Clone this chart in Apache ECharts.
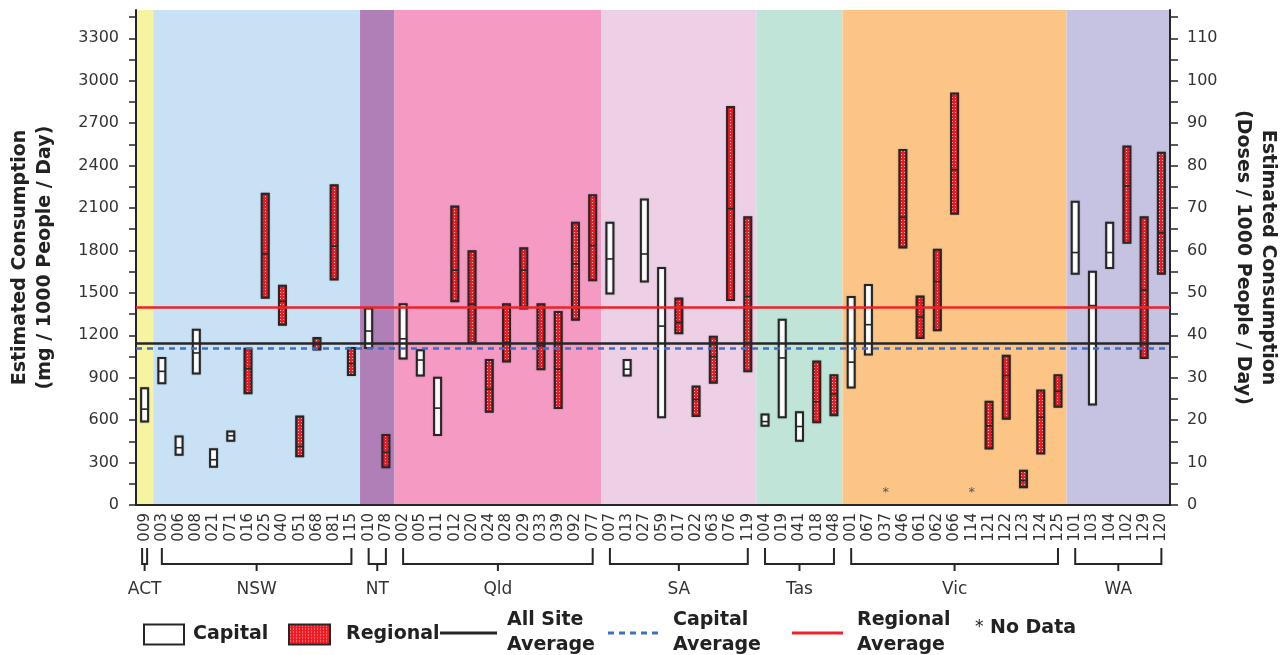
<!DOCTYPE html>
<html><head><meta charset="utf-8">
<script src="https://cdn.jsdelivr.net/npm/echarts@6/dist/echarts.min.js"></script>
<style>html,body{margin:0;padding:0;background:#fff}#c{width:1288px;height:655px}</style>
</head><body><div id="c"></div>
<script>
const sites = ['009','003','006','008','021','071','016','025','040','051','068','081','115','010','078','002','005','011','012','020','024','028','029','033','039','092','077','007','013','027','059','017','022','063','076','119','004','019','041','018','048','001','067','037','046','061','062','066','114','121','122','123','124','125','101','103','104','102','129','120'];
const siteStates = ['ACT',
 'NSW','NSW','NSW','NSW','NSW','NSW','NSW','NSW','NSW','NSW','NSW','NSW',
 'NT','NT',
 'Qld','Qld','Qld','Qld','Qld','Qld','Qld','Qld','Qld','Qld','Qld','Qld',
 'SA','SA','SA','SA','SA','SA','SA','SA','SA',
 'Tas','Tas','Tas','Tas','Tas',
 'Vic','Vic','Vic','Vic','Vic','Vic','Vic','Vic','Vic','Vic','Vic','Vic','Vic',
 'WA','WA','WA','WA','WA','WA'];
const siteTypes = ['C',
 'C','C','C','C','C','R','R','R','R','R','R','R',
 'C','R',
 'C','C','C','R','R','R','R','R','R','R','R','R',
 'C','C','C','C','R','R','R','R','R',
 'C','C','C','R','R',
 'C','C','C','R','R','R','R','R','R','R','R','R','R',
 'C','C','C','R','R','R'];
const lowValues = [590,
 860,355,930,270,455,790,1465,1275,345,1100,1595,920,
 1110,267,
 1035,915,495,1440,1145,660,1015,1390,960,685,1310,1590,
 1495,915,1580,620,1215,630,865,1450,945,
 560,620,455,585,635,
 830,1065,null,1820,1180,1235,2060,null,400,610,125,365,695,
 1635,710,1675,1855,1040,1635];
const midValues = [678,
 945,405,1075,320,490,965,1775,1440,415,1140,1830,1000,
 1230,373,
 1175,1025,685,1660,1420,820,1150,1660,1125,960,1705,1835,
 1740,960,1775,1265,1290,745,1050,2095,1475,
 590,1040,555,730,785,
 1010,1275,null,2035,1330,1580,2370,null,560,915,172,620,805,
 1785,1410,1785,2255,1520,1925];
const highValues = [826,
 1040,485,1240,395,520,1105,2200,1550,625,1180,2260,1110,
 1390,495,
 1420,1095,900,2110,1795,1025,1420,1815,1420,1365,1995,2190,
 1995,1025,2160,1675,1460,838,1190,2815,2035,
 640,1310,655,1015,918,
 1470,1555,null,2510,1475,1805,2910,null,730,1055,243,810,918,
 2145,1650,1995,2535,2035,2490];
const stateNames = ['ACT','NSW','NT','Qld','SA','Tas','Vic','WA'];
const stateColors = ['#F6F3A1','#C9E1F5','#B07FB7','#F49AC3','#EDD0E5','#C0E4D7','#FCC586','#C6C2E1'];
const allSiteAverage = 1143;
const capitalAverage = 1110;
const regionalAverage = 1398;
const mgMax = 3500;
const mgPerDose = 30;
const mgTickValues = [0,150,300,450,600,750,900,1050,1200,1350,1500,1650,1800,1950,2100,2250,2400,2550,2700,2850,3000,3150,3300,3450];
const mgLabelValues = [0,300,600,900,1200,1500,1800,2100,2400,2700,3000,3300];
const doseTickValues = [0,5,10,15,20,25,30,35,40,45,50,55,60,65,70,75,80,85,90,95,100,105,110,115];
const doseLabelValues = [0,10,20,30,40,50,60,70,80,90,100,110];

const FONT = 'DejaVu Sans';
const INK = '#262626';
const BLUE = '#3D6FC6';
const RED = '#EE2229';

// red dotted pattern
const pc = document.createElement('canvas');
pc.width = 3; pc.height = 3;
const pctx = pc.getContext('2d');
pctx.fillStyle = '#EE1C25'; pctx.fillRect(0,0,3,3);
pctx.fillStyle = 'rgba(255,240,240,0.75)'; pctx.fillRect(1,1,1,1);
const redPattern = {image: pc, repeat: 'repeat'};

// state groups (first/last index)
const groups = stateNames.map((s, k) => {
  const first = siteStates.indexOf(s);
  const last = siteStates.lastIndexOf(s);
  return {name: s, first: first, last: last, color: stateColors[k]};
});

const capitalData = [], regionalData = [], noData = [];
sites.forEach((s, i) => {
  if (lowValues[i] === null) { noData.push([i, 0]); return; }
  const row = [i, lowValues[i], midValues[i], highValues[i]];
  (siteTypes[i] === 'C' ? capitalData : regionalData).push(row);
});

function boxRenderer(fill) {
  return function (params, api) {
    const i = api.value(0);
    const lo = api.coord([i, api.value(1)]);
    const mid = api.coord([i, api.value(2)]);
    const hi = api.coord([i, api.value(3)]);
    const w = 7;
    return {type: 'group', children: [
      {type: 'rect', shape: {x: lo[0] - w/2, y: hi[1], width: w, height: lo[1] - hi[1]},
       style: {fill: fill, stroke: INK, lineWidth: 2, shadowBlur: 1.5, shadowColor: 'rgba(0,0,0,0.35)'}},
      {type: 'line', shape: {x1: lo[0] - w/2, y1: mid[1], x2: lo[0] + w/2, y2: mid[1]},
       style: {stroke: INK, lineWidth: 1.6}}
    ]};
  };
}

const legendText = {fontSize: 19, fontWeight: 'bold', color: '#222', fontFamily: FONT, lineHeight: 25};
function mkLegend(item, left, top, iw, ih, pad, extra) {
  return Object.assign({
    left: left, top: top, padding: 0, itemGap: 0, itemWidth: iw, itemHeight: ih,
    selectedMode: false, orient: 'horizontal',
    textStyle: Object.assign({}, legendText, {padding: [0, 0, 0, pad]}),
    data: [item]
  }, extra || {});
}
const dashIcon = 'path://M0,0h6v3h-6z M11,0h6v3h-6z M22,0h6v3h-6z M33,0h6v3h-6z M44,0h6v3h-6z';

const option = {
  animation: false,
  textStyle: {fontFamily: FONT},
  grid: {left: 135, right: 114, top: 10, bottom: 150},
  xAxis: {
    type: 'category', data: sites, boundaryGap: true,
    axisLine: {lineStyle: {color: INK, width: 2}},
    axisTick: {length: 5, lineStyle: {color: INK, width: 1.5}},
    axisLabel: {rotate: 90, interval: 0, fontSize: 15, color: '#333', margin: 8, fontFamily: FONT},
    splitLine: {show: false}
  },
  yAxis: [
    {type: 'value', min: 0, max: mgMax, position: 'left',
     name: 'Estimated Consumption\n(mg / 1000 People / Day)', nameLocation: 'middle', nameRotate: 90, nameGap: 78,
     nameTextStyle: {fontSize: 19, fontWeight: 'bold', color: '#222', lineHeight: 25, fontFamily: FONT},
     axisLine: {show: true, lineStyle: {color: INK, width: 2}},
     axisTick: {show: true, length: 7, customValues: mgTickValues, lineStyle: {color: INK, width: 1.5}},
     axisLabel: {customValues: mgLabelValues, fontSize: 16, color: '#333', margin: 17, fontFamily: FONT,
                 formatter: function (v) { return String(v); }},
     splitLine: {show: false}},
    {type: 'value', min: 0, max: mgMax / mgPerDose, position: 'right',
     name: 'Estimated Consumption\n(Doses / 1000 People / Day)', nameLocation: 'middle', nameRotate: -90, nameGap: 60,
     nameTextStyle: {fontSize: 19, fontWeight: 'bold', color: '#222', lineHeight: 25, fontFamily: FONT},
     axisLine: {show: true, lineStyle: {color: INK, width: 2}},
     axisTick: {show: true, length: 8, customValues: doseTickValues, lineStyle: {color: INK, width: 1.5}},
     axisLabel: {customValues: doseLabelValues, fontSize: 16, color: '#333', margin: 17, fontFamily: FONT,
                 formatter: function (v) { return String(v); }},
     splitLine: {show: false}}
  ],
  legend: [
    mkLegend({name: 'Capital', icon: 'rect', itemStyle: {color: '#fff', borderColor: INK, borderWidth: 2}}, 143, 622, 40, 20, 4),
    mkLegend({name: 'Regional', icon: 'rect', itemStyle: {color: redPattern, borderColor: INK, borderWidth: 2}}, 288, 622, 41, 20, 11),
    mkLegend({name: 'All Site Average', icon: 'rect', itemStyle: {color: INK, borderWidth: 0}}, 440, 608, 57, 3, 5,
             {formatter: function(){return 'All Site\nAverage';}}),
    mkLegend({name: 'Capital Average', icon: dashIcon, itemStyle: {color: BLUE, borderWidth: 0}}, 608, 608, 50, 3, 10,
             {formatter: function(){return 'Capital\nAverage';}}),
    mkLegend({name: 'Regional Average', icon: 'rect', itemStyle: {color: RED, borderWidth: 0}}, 792, 608, 51, 3, 9,
             {formatter: function(){return 'Regional\nAverage';}})
  ],
  series: [
    {type: 'custom', name: 'bands', silent: true, z: 0, clip: true,
     data: groups.map(g => [g.first, g.last]),
     renderItem: function (params, api) {
       const g = groups[params.dataIndex];
       const band = api.size([1, 0])[0];
       const a = api.coord([api.value(0), mgMax]);
       const b = api.coord([api.value(1), 0]);
       return {type: 'rect', shape: {x: a[0] - band/2, y: a[1], width: b[0] - a[0] + band, height: b[1] - a[1]},
               style: {fill: g.color}};
     }},
    {type: 'line', name: 'All Site Average', data: [], symbol: 'none', showSymbol: false, z: 2,
     itemStyle: {color: INK}, lineStyle: {color: INK, width: 2.5},
     markLine: {silent: true, symbol: ['none','none'], label: {show: false},
       lineStyle: {color: INK, width: 2.5, type: 'solid'}, data: [{yAxis: allSiteAverage}]}},
    {type: 'line', name: 'Capital Average', data: [], symbol: 'none', showSymbol: false, z: 2,
     itemStyle: {color: BLUE}, lineStyle: {color: BLUE, width: 2.5, type: [6, 5]},
     markLine: {silent: true, symbol: ['none','none'], label: {show: false},
       lineStyle: {color: BLUE, width: 2.5, type: [6, 5]}, data: [{yAxis: capitalAverage}]}},
    {type: 'line', name: 'Regional Average', data: [], symbol: 'none', showSymbol: false, z: 2,
     itemStyle: {color: RED}, lineStyle: {color: RED, width: 2.5},
     markLine: {silent: true, symbol: ['none','none'], label: {show: false},
       lineStyle: {color: RED, width: 2.5, type: 'solid'}, data: [{yAxis: regionalAverage}]}},
    {type: 'custom', name: 'Capital', z: 3, data: capitalData, encode: {x: 0, y: [1, 2, 3]},
     itemStyle: {color: '#fff', borderColor: INK, borderWidth: 2},
     renderItem: boxRenderer('#fff')},
    {type: 'custom', name: 'Regional', z: 3, data: regionalData, encode: {x: 0, y: [1, 2, 3]},
     itemStyle: {color: redPattern, borderColor: INK, borderWidth: 2},
     renderItem: boxRenderer(redPattern)},
    {type: 'custom', name: 'noData', z: 3, silent: true, data: noData,
     renderItem: function (params, api) {
       const p = api.coord([api.value(0), api.value(1)]);
       return {type: 'text', x: p[0], y: p[1] - 12,
               style: {text: '*', fontSize: 13, fill: '#555', align: 'center', verticalAlign: 'middle', fontFamily: FONT}};
     }}
  ]
};

const chart = echarts.init(document.getElementById('c'), null, {renderer: 'canvas'});
chart.setOption(option);

const gfx = [];
groups.forEach(g => {
  let x0 = chart.convertToPixel({xAxisIndex: 0}, g.first);
  let x1 = chart.convertToPixel({xAxisIndex: 0}, g.last);
  if (g.first === g.last) { x0 -= 2.5; x1 += 2.5; }
  const m = (x0 + x1) / 2;
  gfx.push({type: 'polyline', shape: {points: [[x0, 548], [x0, 564], [x1, 564], [x1, 548]]},
            style: {stroke: INK, lineWidth: 2, fill: null}});
  gfx.push({type: 'line', shape: {x1: m, y1: 564, x2: m, y2: 571}, style: {stroke: INK, lineWidth: 2}});
  gfx.push({type: 'text', x: m, y: 590, style: {text: g.name, fontSize: 17, fill: '#333', align: 'center', verticalAlign: 'middle', fontFamily: FONT}});
});
gfx.push({type: 'text', x: 975, y: 628, style: {text: '*', fontSize: 17, fill: '#222', align: 'left', verticalAlign: 'middle', fontFamily: FONT}});
gfx.push({type: 'text', x: 990, y: 628, style: {text: 'No Data', fontSize: 19, fontWeight: 'bold', fill: '#222', align: 'left', verticalAlign: 'middle', fontFamily: FONT}});
chart.setOption({graphic: gfx});
</script></body></html>
